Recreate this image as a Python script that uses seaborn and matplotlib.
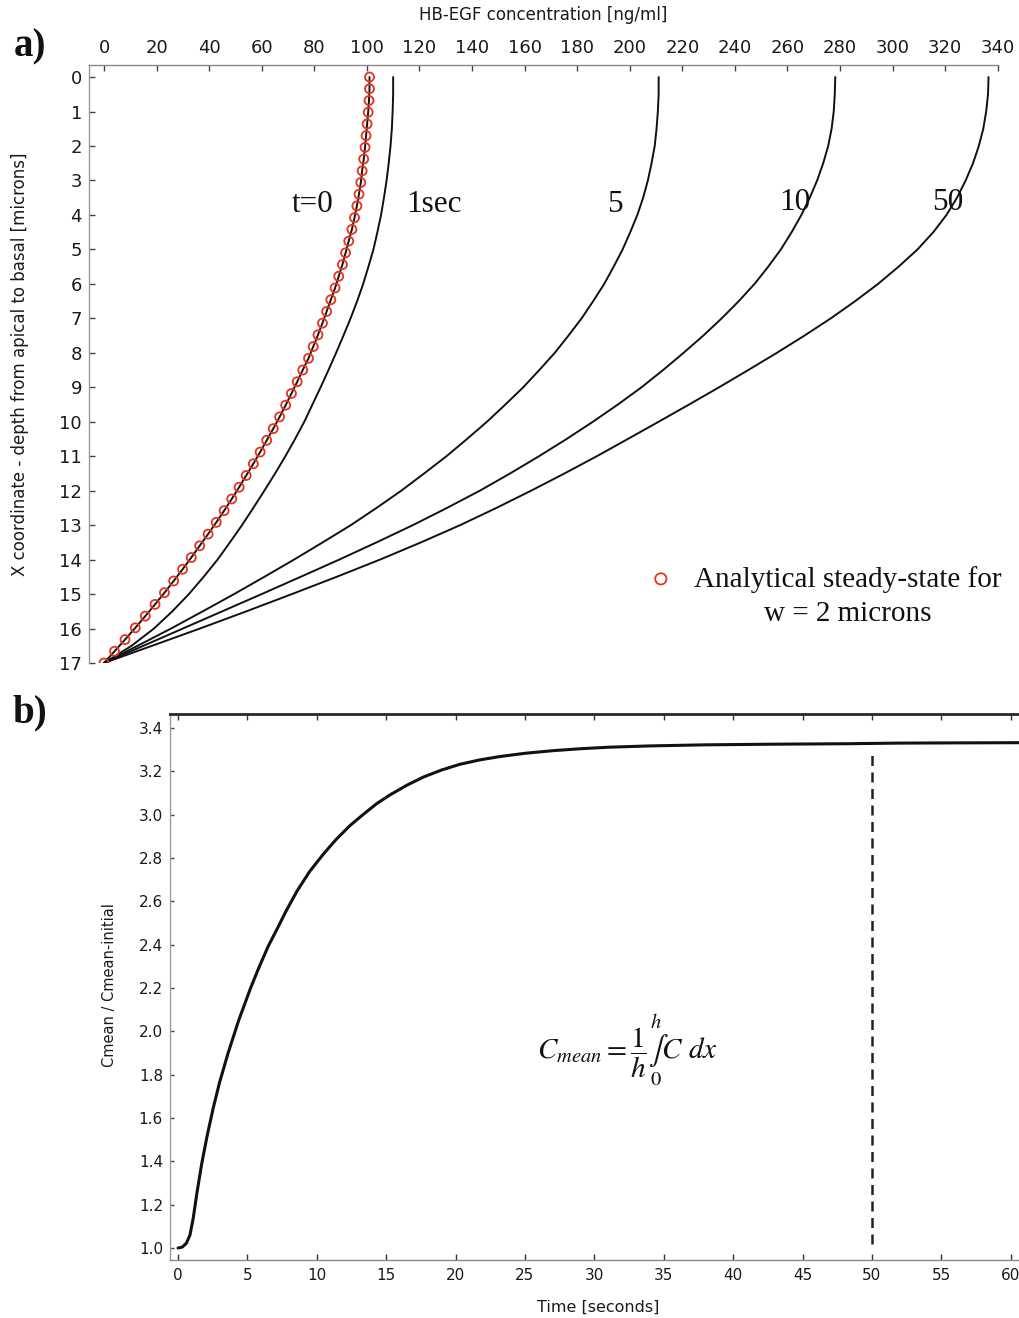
import matplotlib
matplotlib.use("Agg")
import matplotlib.pyplot as plt
import seaborn as sns

# ---------------- panel a: HB-EGF profiles across the layer ----------------
# analytical steady state (w = 2 microns), sampled every 0.34 micron
depth_ss = [0.0, 0.34, 0.68, 1.02, 1.36, 1.7, 2.04, 2.38, 2.72, 3.06, 3.4, 3.74,
            4.08, 4.42, 4.76, 5.1, 5.44, 5.78, 6.12, 6.46, 6.8, 7.14, 7.48, 7.82,
            8.16, 8.5, 8.84, 9.18, 9.52, 9.86, 10.2, 10.54, 10.88, 11.22, 11.56,
            11.9, 12.24, 12.58, 12.92, 13.26, 13.6, 13.94, 14.28, 14.62, 14.96,
            15.3, 15.64, 15.98, 16.32, 16.66, 17.0]
conc_ss = [101.0, 101.0, 100.8, 100.5, 100.1, 99.7, 99.3, 98.8, 98.2, 97.7, 97.0,
           96.2, 95.3, 94.3, 93.1, 91.9, 90.7, 89.3, 87.9, 86.3, 84.7, 83.1, 81.4,
           79.6, 77.8, 75.6, 73.5, 71.3, 69.1, 66.8, 64.4, 61.9, 59.4, 56.8, 54.1,
           51.4, 48.6, 45.7, 42.7, 39.6, 36.4, 33.2, 29.9, 26.5, 23.0, 19.4, 15.7,
           11.9, 8.0, 4.0, 0.0]

# numerical solution at later times, depth 0..17 microns in half-micron steps
depth = [0, 0.5, 1, 1.5, 2, 2.5, 3, 3.5, 4, 4.5, 5, 5.5, 6, 6.5, 7, 7.5, 8, 8.5,
         9, 9.5, 10, 10.5, 11, 11.5, 12, 12.5, 13, 13.5, 14, 14.5, 15, 15.5, 16,
         16.5, 17]
conc_1s = [110.0, 110.0, 109.8, 109.5, 109.0, 108.3, 107.5, 106.5, 105.4, 104.0,
           102.5, 100.6, 98.6, 96.3, 93.8, 91.1, 88.3, 85.4, 82.4, 79.3, 76.2,
           72.7, 69.0, 65.1, 61.0, 56.8, 52.5, 47.9, 43.2, 37.9, 32.3, 26.0, 19.0,
           10.5, 0.0]
conc_5s = [211.0, 211.0, 210.7, 210.2, 209.5, 208.3, 206.9, 205.1, 202.9, 200.2,
           197.3, 193.9, 190.3, 186.1, 181.7, 176.7, 171.5, 165.6, 159.5, 152.7,
           145.7, 138.1, 130.3, 121.8, 113.1, 103.7, 93.9, 83.2, 72.3, 61.0, 49.5,
           37.6, 25.5, 12.8, 0.0]
conc_10s = [278.2, 278.0, 277.6, 276.8, 275.5, 273.6, 271.3, 268.5, 265.3, 261.6,
            257.5, 252.7, 247.5, 241.5, 235.0, 228.0, 220.5, 212.7, 204.5, 195.5,
            186.0, 176.0, 165.5, 154.5, 143.0, 130.5, 117.5, 103.7, 89.5, 74.8,
            60.0, 45.0, 30.0, 15.0, 0.0]
conc_50s = [336.5, 336.3, 335.6, 334.5, 332.8, 330.6, 327.8, 324.5, 320.5, 315.5,
            309.5, 302.3, 294.5, 285.8, 276.5, 266.5, 256.0, 245.1, 234.0, 222.6,
            211.0, 199.3, 187.5, 175.2, 162.5, 149.3, 135.5, 120.6, 105.0, 88.5,
            71.5, 54.2, 36.5, 18.3, 0.0]

profile_labels = ["t=0", "1sec", "5", "10", "50"]
label_x = [79.5, 125.5, 194.4, 262.8, 321.0]
label_depth = [3.71, 3.71, 3.71, 3.63, 3.63]

conc_ticks = list(range(0, 341, 20))
depth_ticks = list(range(0, 18))

# ---------------- panel b: mean concentration vs time ----------------
time_s = [0.0, 0.3, 0.6, 0.86, 1.1, 1.35, 1.7, 2.1, 2.55, 3.0, 3.6, 4.35, 5.2,
          5.8, 6.5, 7.2, 7.8, 8.6, 9.5, 10.5, 11.4, 12.4, 13.35, 14.3, 15.3, 16.5,
          17.7, 19.0, 20.3, 21.7, 23.2, 25.0, 27.0, 29.0, 31.0, 34.0, 38.0, 43.0,
          48.0, 52.0, 56.0, 61.0]
cmean_ratio = [1.0, 1.004, 1.022, 1.06, 1.14, 1.25, 1.387, 1.519, 1.65, 1.766,
               1.898, 2.047, 2.195, 2.29, 2.393, 2.48, 2.557, 2.65, 2.739, 2.82,
               2.886, 2.95, 3.001, 3.05, 3.092, 3.136, 3.174, 3.206, 3.232, 3.252,
               3.268, 3.283, 3.295, 3.304, 3.311, 3.317, 3.322, 3.325, 3.327,
               3.33, 3.331, 3.332]
marker_time = [50, 50]
marker_span = [1.02, 3.30]

time_ticks = list(range(0, 61, 5))
ratio_ticks = [1.0, 1.2, 1.4, 1.6, 1.8, 2.0, 2.2, 2.4, 2.6, 2.8, 3.0, 3.2, 3.4]

# ---------------- styling ----------------
sns.set_theme(style="white")
plt.rcParams["font.family"] = ["DejaVu Sans"]
plt.rcParams["mathtext.fontset"] = "stix"

SERIF = ["Liberation Serif", "DejaVu Serif"]
INK = "#111111"
RED = "#e8321e"

fig = plt.figure(figsize=(10.19, 13.18), dpi=100)
ax_a = fig.add_axes([0.08734, 0.49697, 0.89205, 0.45372])
ax_b = fig.add_axes([0.16683, 0.04401, 0.83317, 0.41426])

# ---- panel a drawing ----
line_kw = dict(color=INK, linewidth=1.4, sort=False, estimator=None,
               legend=False, ax=ax_a)
for conc in (conc_1s, conc_5s, conc_10s, conc_50s):
    sns.lineplot(x=conc, y=depth, **line_kw)
sns.lineplot(x=conc_ss, y=depth_ss, **line_kw)
sns.scatterplot(x=conc_ss, y=depth_ss, marker="o", s=42, facecolor="none",
                edgecolor=RED, linewidth=1.3, zorder=3, ax=ax_a,
                label="Analytical steady-state for\nw = 2 microns")

for txt, lx, ld in zip(profile_labels, label_x, label_depth):
    ax_a.text(lx, ld, txt, ha="center", va="center", fontsize=22.5,
              family=SERIF, color=INK)

ax_a.set_xlim(-5.71, 340.1)
ax_a.set_ylim(17.0, -0.35)
ax_a.set_xticks(conc_ticks)
ax_a.set_yticks(depth_ticks)
ax_a.xaxis.tick_top()
ax_a.tick_params(axis="x", which="both", direction="in", length=4, width=1,
                 color="#444444", pad=6, labelsize=13, labelcolor="#1a1a1a",
                 top=True, bottom=False)
ax_a.tick_params(axis="y", direction="in", length=4, width=1, color="#444444",
                 pad=5, labelsize=13, labelcolor="#1a1a1a", left=True)
for side in ("right", "bottom"):
    ax_a.spines[side].set_visible(False)
ax_a.spines["top"].set_color("#8a8a80")
ax_a.spines["top"].set_linewidth(1.0)
ax_a.spines["left"].set_color("#9a9a90")
ax_a.spines["left"].set_linewidth(1.0)

ax_a.xaxis.set_label_position("top")
ax_a.set_xlabel("HB-EGF concentration [ng/ml]", fontsize=12, color="#1a1a1a")
ax_a.xaxis.label.set_va("center")
ax_a.xaxis.set_label_coords(0.4994, 1.0836)
ax_a.set_ylabel("X coordinate - depth from apical to basal [microns]",
                fontsize=12, color="#1a1a1a")
ax_a.yaxis.label.set_va("center")
ax_a.yaxis.set_label_coords(-0.0759, 0.5)

handles, labels = ax_a.get_legend_handles_labels()
leg = ax_a.legend(handles, labels, loc="upper left",
                  bbox_to_anchor=(0.597, 0.186), frameon=False,
                  prop={"family": SERIF, "size": 21}, markerscale=1.25,
                  handlelength=1.0, handletextpad=0.65, borderpad=0.0,
                  scatteryoffsets=[1.37])
for t in leg.get_texts():
    t.set_multialignment("center")
    t.set_linespacing(1.4)
    t.set_color(INK)

# ---- panel b drawing ----
sns.lineplot(x=time_s, y=cmean_ratio, color=INK, linewidth=2.2, sort=False,
             estimator=None, legend=False, ax=ax_b)
ax_b.plot(marker_time, marker_span, color="#222222", linewidth=1.8,
          linestyle=(0, (4, 2.6)))

ax_b.text(32.4, 1.914,
          r"$C_{mean} = \dfrac{1}{h}\underset{0}{\overset{h}{\int}} C\ dx$",
          ha="center", va="center", fontsize=21, color=INK)

ax_b.set_xlim(-0.58, 60.6)
ax_b.set_ylim(0.9446, 3.4643)
ax_b.set_xticks(time_ticks)
ax_b.set_yticks(ratio_ticks)
ax_b.set_yticklabels([f"{v:.1f}" for v in ratio_ticks])
ax_b.tick_params(axis="x", which="both", direction="in", length=4, width=1,
                 color="#333333", pad=6, labelsize=11, labelcolor="#1a1a1a",
                 top=True, bottom=True)
ax_b.tick_params(axis="y", direction="in", length=3, width=1, color="#444444",
                 pad=5, labelsize=11, labelcolor="#1a1a1a", left=True, right=False)
ax_b.spines["right"].set_visible(False)
ax_b.spines["top"].set_color("#2a2a20")
ax_b.spines["top"].set_linewidth(2.0)
ax_b.spines["bottom"].set_color("#8a8a80")
ax_b.spines["bottom"].set_linewidth(1.0)
ax_b.spines["left"].set_color("#a0a098")
ax_b.spines["left"].set_linewidth(1.0)

ax_b.set_xlabel("Time [seconds]", fontsize=11.5, color="#1a1a1a")
ax_b.xaxis.label.set_va("center")
ax_b.xaxis.set_label_coords(0.504, -0.0861)
ax_b.set_ylabel("Cmean / Cmean-initial", fontsize=10.5, color="#1a1a1a")
ax_b.yaxis.label.set_va("center")
ax_b.yaxis.set_label_coords(-0.0707, 0.5037)

# panel letters
fig.text(30 / 1019, 1 - 47 / 1318, "a)", ha="center", va="center",
         fontsize=28, fontweight="bold", family=SERIF, color=INK)
fig.text(30 / 1019, 1 - 713 / 1318, "b)", ha="center", va="center",
         fontsize=28, fontweight="bold", family=SERIF, color=INK)

fig.savefig("out.png", dpi=100, facecolor="white")
